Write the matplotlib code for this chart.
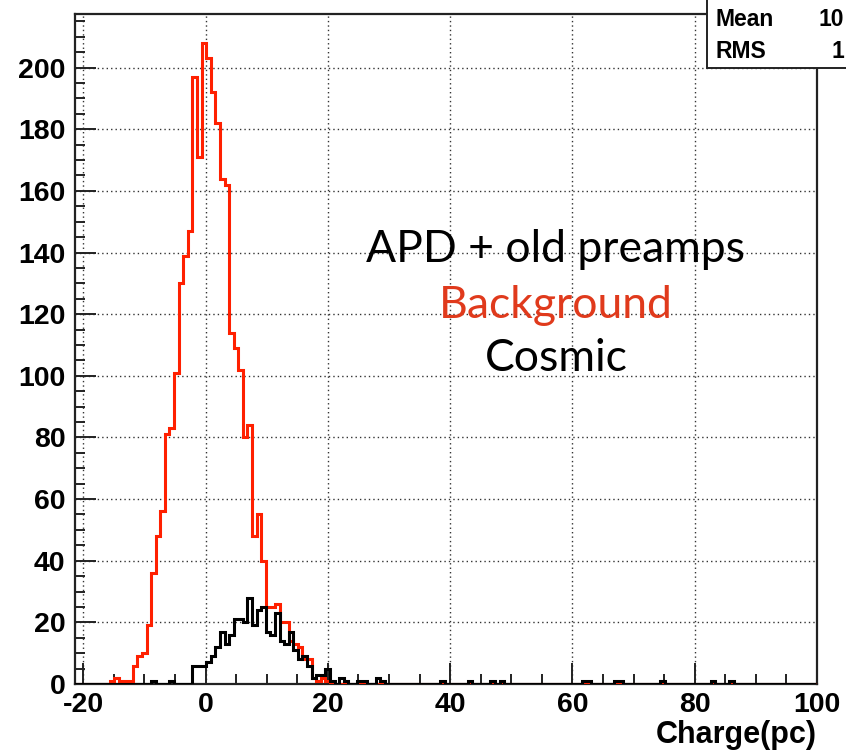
import numpy as np
import matplotlib
matplotlib.use("Agg")
import matplotlib.pyplot as plt
from matplotlib.patches import Rectangle
from matplotlib.ticker import MultipleLocator

# binning: 0.75 pc wide bins
bin_lo = -21.65
bin_w = 0.75
n_bins = 162

# background (red) counts, starting at bin 8
red_start = 8
red_counts = [1, 2, 1, 1, 1, 6, 9, 10, 19, 36, 48, 56, 81, 83, 101, 130, 139, 147,
              197, 171, 208, 203, 192, 182, 164, 162, 114, 109, 102, 80, 84, 48, 55,
              40, 25, 25, 26, 20, 20, 14, 13, 12, 8, 8, 2, 1, 2, 1]

# cosmic (black) counts, starting at bin 17
blk_start = 17
blk_counts = [1, 0, 0, 0, 1, 0, 0, 0, 0, 6, 6, 6, 7, 9, 12, 17, 13, 16, 21, 21, 20, 28,
              19, 24, 25, 17, 16, 23, 14, 13, 17, 11, 8, 9, 6, 2, 3, 3, 5, 1, 0, 2, 1,
              0, 0, 1, 1, 0, 0, 2, 1]
# isolated single entries in the tail
blk_tail_bins = [80, 86, 91, 93, 111, 112, 118, 119, 128, 139, 143]
blk_tail_counts = [1, 1, 1, 1, 1, 1, 1, 1, 1, 1, 1]

xticks = [-20, 0, 20, 40, 60, 80, 100]
yticks = [0, 20, 40, 60, 80, 100, 120, 140, 160, 180, 200]

edges = bin_lo + bin_w * np.arange(n_bins + 1)
red = np.zeros(n_bins)
red[red_start:red_start + len(red_counts)] = red_counts
blk = np.zeros(n_bins)
blk[blk_start:blk_start + len(blk_counts)] = blk_counts
blk[blk_tail_bins] = blk_tail_counts

fig = plt.figure(figsize=(8.46, 7.54), dpi=100)
ax = fig.add_axes([75/846, 70/754, 742/846, 670/754])

ax.stairs(red, edges, baseline=0, color='#ff2000', lw=2.2, zorder=3)
ax.stairs(blk, edges, baseline=0, color='black', lw=2.2, zorder=4)

ax.set_xlim(-21.35, 100)
ax.set_ylim(0, 217.4)
ax.set_xticks(xticks)
ax.set_yticks(yticks)
ax.xaxis.set_minor_locator(MultipleLocator(5))
ax.yaxis.set_minor_locator(MultipleLocator(5))
ax.grid(True, which='major', ls=(0, (1, 2.2)), color='#333333', lw=1.0, zorder=1)

tick_font = dict(family='Liberation Sans', weight='bold', size=20.5)
ax.set_xticklabels([str(t) for t in xticks], fontdict=tick_font)
ax.set_yticklabels([str(t) for t in yticks], fontdict=tick_font)
ax.tick_params(which='major', direction='in', length=15, width=1.4, color='#222222')
ax.tick_params(which='minor', direction='in', length=7.5, width=1.4, color='#222222')
ax.tick_params(axis='y', pad=7)
ax.tick_params(axis='x', pad=6)
for s in ax.spines.values():
    s.set_linewidth(1.6)
    s.set_color('#222222')

ax.set_xlabel('Charge(pc)', loc='right', fontdict=dict(family='Liberation Sans',
              weight='bold', size=22), labelpad=1)

# labels in the middle of the pad
fig.text(556/846, 1 - 250/754, 'APD + old preamps', family='Lato', size=32,
         ha='center', va='center', color='black')
fig.text(556/846, 1 - 305/754, 'Background', family='Lato', size=32,
         ha='center', va='center', color='#e03a1c')
fig.text(556/846, 1 - 358/754, 'Cosmic', family='Lato', size=32,
         ha='center', va='center', color='black')

# statistics box, top right
fig.add_artist(Rectangle((707/846, 1 - 68/754), 0.2, 0.1, transform=fig.transFigure,
                         fc='white', ec='#222222', lw=1.4, zorder=5))
stat_font = dict(family='Liberation Sans', weight='bold', size=16.5, zorder=6)
fig.text(715/846, 1 - 19/754, 'Mean', ha='left', va='center', **stat_font)
fig.text(844/846, 1 - 19/754, '10', ha='right', va='center', **stat_font)
fig.text(715/846, 1 - 52/754, 'RMS', ha='left', va='center', **stat_font)
fig.text(844/846, 1 - 52/754, '1', ha='right', va='center', **stat_font)

fig.savefig('out.png', dpi=100)
